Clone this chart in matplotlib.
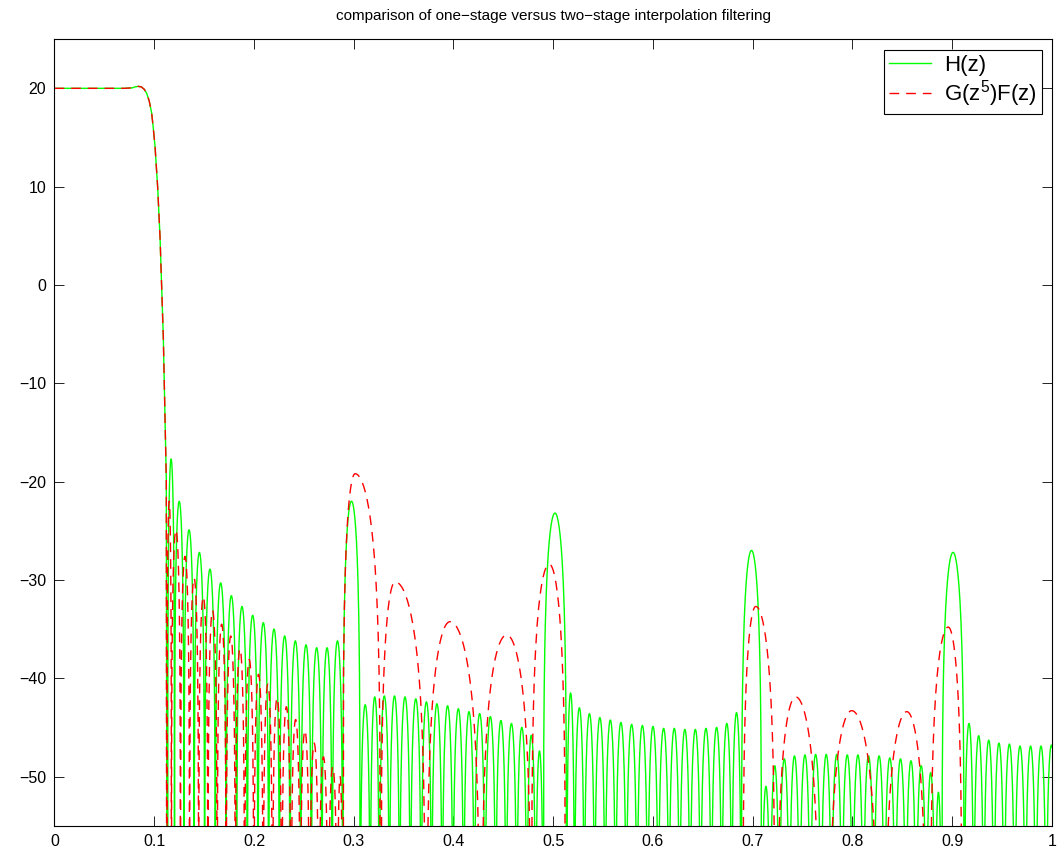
import numpy as np
import matplotlib
matplotlib.use('Agg')
import matplotlib.pyplot as plt

plt.rcParams['font.family'] = ['Liberation Sans', 'DejaVu Sans']
plt.rcParams['mathtext.default'] = 'regular'

# ---------------- data ----------------
# passband / transition band, shared by both responses (normalized freq, dB)
trans_f = [0.0, 0.02, 0.04, 0.06, 0.07, 0.078, 0.081, 0.084, 0.087, 0.090, 0.0924,
           0.095, 0.0974, 0.099, 0.1008, 0.1034, 0.1058, 0.1075, 0.1091, 0.1101,
           0.1111, 0.1121]
trans_db = [20.0, 20.0, 20.0, 20.0, 20.0, 20.05, 20.15, 20.2, 20.15, 19.9, 19.5,
            18.7, 17.5, 16.0, 14.1, 10.0, 4.9, -0.2, -5.3, -10.3, -15.4, -19.8]

# H(z): stopband lobes, given by the nulls between them and the lobe peak levels
green_nulls = [0.1135, 0.1203, 0.1298, 0.1400, 0.1505, 0.1612, 0.1720, 0.1826, 0.1933,
               0.2040, 0.2147, 0.2254, 0.2361, 0.2468, 0.2575, 0.2681, 0.2784, 0.2890,
               0.3065, 0.3165, 0.3256, 0.3357, 0.3460, 0.3568, 0.3676, 0.3781, 0.3887,
               0.3995, 0.4102, 0.4209, 0.4316, 0.4423, 0.4528, 0.4634, 0.4736, 0.4824,
               0.4900,
               0.5135, 0.5213, 0.5311, 0.5415, 0.5520, 0.5625, 0.5732, 0.5840, 0.5947,
               0.6053, 0.6160, 0.6267, 0.6372, 0.6477, 0.6585, 0.6690, 0.6790, 0.6885,
               0.7090, 0.7175, 0.7266, 0.7367, 0.7470, 0.7577, 0.7684, 0.7790, 0.7894,
               0.8001, 0.8108, 0.8214, 0.8320, 0.8428, 0.8535, 0.8638, 0.8740, 0.8828,
               0.8895,
               0.9121, 0.9215, 0.9315, 0.9417, 0.9520, 0.9626, 0.9733, 0.9838, 0.9942,
               1.0046]
green_peak_db = [-17.7, -22.0, -24.9, -27.2, -28.9, -30.3, -31.6, -32.7, -33.6, -34.35,
                 -35.0, -35.7, -36.2, -36.6, -36.9, -36.9, -36.2,
                 -22.0,
                 -42.7, -41.9, -41.8, -41.8, -41.9, -42.1, -42.4, -42.6, -42.8, -43.1,
                 -43.4, -43.6, -43.9, -44.3, -44.6, -45.0, -45.8, -47.4,
                 -23.2,
                 -41.5, -43.0, -43.6, -44.0, -44.25, -44.5, -44.7, -44.8, -44.9, -45.1,
                 -45.1, -45.2, -45.2, -45.1, -45.0, -44.6, -43.5,
                 -27.0,
                 -51.0, -48.9, -48.2, -47.9, -47.8, -47.75, -47.75, -47.75, -47.8, -47.8,
                 -47.9, -47.9, -48.1, -48.2, -48.4, -48.9, -49.6, -51.6,
                 -27.2,
                 -44.6, -45.85, -46.3, -46.6, -46.7, -46.9, -46.9, -46.9, -46.8]

# G(z^5)F(z): dense stopband lobes after the transition band
red_nulls = [0.1128, 0.1172, 0.1263, 0.1354, 0.1445, 0.1538, 0.1631, 0.1721, 0.1813,
             0.1906, 0.1999, 0.2092, 0.2185, 0.2278, 0.2371, 0.2464, 0.2557, 0.2650,
             0.2743, 0.2836, 0.2890]
red_peak_db = [-22.0, -24.9, -27.6, -29.8, -31.7, -33.1, -34.5, -35.7, -37.0, -38.1,
               -39.6, -40.6, -42.0, -42.9, -44.2, -45.3, -46.6, -48.0, -49.0, -50.0]

# G(z^5)F(z): broad image lobes (left null, peak freq, peak dB, right null)
red_img_left = [0.289, 0.327, 0.373, 0.428, 0.478, 0.690, 0.724, 0.776, 0.832, 0.878]
red_img_peak_f = [0.3013, 0.3414, 0.3965, 0.4533, 0.4960, 0.7030, 0.7430, 0.7992,
                  0.8545, 0.8960]
red_img_peak_db = [-19.2, -30.2, -34.25, -35.6, -28.4, -32.7, -41.9, -43.3, -43.4, -34.8]
red_img_right = [0.327, 0.372, 0.4266, 0.478, 0.5125, 0.7225, 0.767, 0.826, 0.8745, 0.910]

x_ticks = [0, 0.1, 0.2, 0.3, 0.4, 0.5, 0.6, 0.7, 0.8, 0.9, 1]
x_tick_labels = ['0', '0.1', '0.2', '0.3', '0.4', '0.5', '0.6', '0.7', '0.8', '0.9', '1']
y_ticks = [-50, -40, -30, -20, -10, 0, 10, 20]


# ---------------- build curves ----------------
def lobes(left, right, peak_f, peak_db, n=48):
    fs, ds = [], []
    for a, b, c, p in zip(left, right, peak_f, peak_db):
        t = np.linspace(0.0, 1.0, n)
        pc = (c - a) / (b - a)
        s = np.where(t < pc, 0.5 * t / pc, 0.5 + 0.5 * (t - pc) / (1.0 - pc))
        amp = 10 ** (p / 20.0) * np.sin(np.pi * s)
        fs.append(a + (b - a) * t)
        ds.append(20 * np.log10(np.maximum(amp, 1e-6)))
    return np.concatenate(fs), np.concatenate(ds)


def null_lobes(nulls, peak_db):
    nl = np.asarray(nulls)
    return lobes(nl[:-1], nl[1:], 0.5 * (nl[:-1] + nl[1:]), peak_db)


gf, gd = null_lobes(green_nulls, green_peak_db)
green_f = np.concatenate([trans_f, gf])
green_db = np.concatenate([trans_db, gd])

rf1, rd1 = null_lobes(red_nulls, red_peak_db)
rf2, rd2 = lobes(red_img_left, red_img_right, red_img_peak_f, red_img_peak_db)
red_f = np.concatenate([trans_f, rf1, rf2])
red_db = np.concatenate([trans_db, rd1, rd2])

# ---------------- plot ----------------
fig = plt.figure(figsize=(10.58, 8.59), dpi=100)
ax = fig.add_axes([0.0515, 0.0388, 0.9428, 0.9156])

ax.plot(green_f, green_db, color=(0, 1, 0), lw=1.0, label='H(z)')
ax.plot(red_f, red_db, color=(1, 0, 0), lw=1.0, dashes=(7, 5),
        label='G(z$^5$)F(z)')

ax.set_xlim(0, 1)
ax.set_ylim(-55, 25)
ax.set_xticks(x_ticks)
ax.set_xticklabels(x_tick_labels)
ax.set_yticks(y_ticks)
ax.tick_params(direction='in', top=True, right=True, length=7, width=0.6,
               labelsize=11.5, pad=6)
for sp in ax.spines.values():
    sp.set_linewidth(0.8)

ax.set_title('comparison of one\u2212stage versus two\u2212stage interpolation filtering',
             fontsize=11, pad=14)

leg = ax.legend(loc='upper right', bbox_to_anchor=(0.99, 0.986), borderaxespad=0,
                fancybox=False, edgecolor='black', framealpha=1, fontsize=16,
                handlelength=1.9, handletextpad=0.6, labelspacing=0.1,
                borderpad=0.22)
leg.get_frame().set_linewidth(0.8)

fig.savefig('out.png', dpi=100)
